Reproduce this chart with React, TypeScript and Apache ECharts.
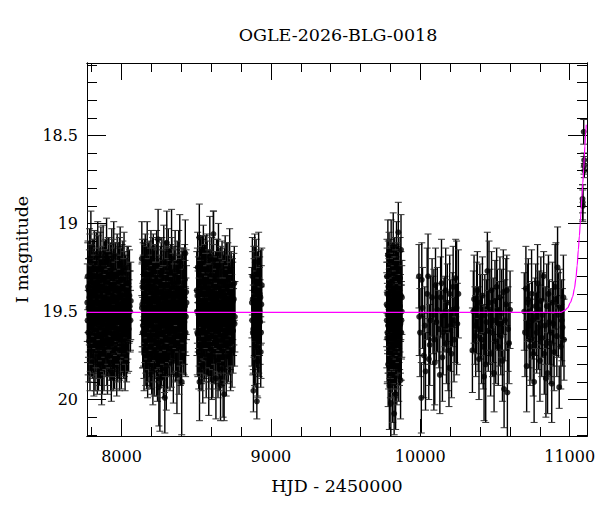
import React, { useEffect, useRef } from "react";
import * as echarts from "echarts";

// Axis ranges and ticks
const xRange = [7769, 11116];
const yRange = [18.089, 20.207];
const xMajorTicks = [8000, 9000, 10000, 11000];
const xMinorTicks = [7800, 8200, 8400, 8600, 8800, 9200, 9400, 9600, 9800, 10200, 10400, 10600, 10800];
const yMajorTicks = [18.5, 19, 19.5, 20];
const yMinorTicks = [18.1, 18.2, 18.3, 18.4, 18.6, 18.7, 18.8, 18.9, 19.1, 19.2, 19.3, 19.4, 19.6, 19.7, 19.8, 19.9, 20.1, 20.2];

const titleText = "OGLE-2026-BLG-0018";
const xTitle = "HJD - 2450000";
const yTitle = "I magnitude";

// Photometry: [HJD-2450000, I mag, error]
const season1 = [
  [7771, 19.45, 0.22], [7774, 19.3, 0.19], [7777, 19.62, 0.24], [7780, 19.38, 0.18], [7783, 19.52, 0.21],
  [7786, 19.2, 0.17], [7789, 19.7, 0.25], [7792, 19.44, 0.2], [7795, 19.22, 0.29], [7798, 19.57, 0.19],
  [7802, 19.36, 0.23], [7805, 19.66, 0.22], [7808, 19.29, 0.2], [7811, 19.48, 0.26], [7815, 19.78, 0.2],
  [7818, 19.25, 0.21], [7821, 19.55, 0.18], [7824, 19.4, 0.24], [7828, 19.63, 0.21], [7831, 19.32, 0.27],
  [7834, 19.5, 0.19], [7838, 19.74, 0.23], [7841, 19.19, 0.2], [7844, 19.46, 0.22], [7847, 19.58, 0.25],
  [7851, 19.34, 0.18], [7854, 19.68, 0.24], [7857, 19.27, 0.22], [7860, 19.53, 0.2], [7864, 19.42, 0.26],
  [7867, 19.81, 0.22], [7870, 19.37, 0.19], [7873, 19.6, 0.21], [7877, 19.24, 0.23], [7880, 19.49, 0.18],
  [7883, 19.71, 0.24], [7886, 19.31, 0.21], [7890, 19.56, 0.2], [7893, 19.43, 0.25], [7896, 19.65, 0.22],
  [7900, 19.21, 0.24], [7903, 19.52, 0.19], [7906, 19.76, 0.21], [7909, 19.39, 0.23], [7913, 19.58, 0.26],
  [7916, 19.28, 0.2], [7919, 19.47, 0.22], [7922, 19.69, 0.2], [7926, 19.35, 0.24], [7929, 19.54, 0.19],
  [7932, 19.84, 0.17], [7935, 19.26, 0.23], [7939, 19.61, 0.28], [7942, 19.41, 0.21], [7945, 19.73, 0.22],
  [7948, 19.18, 0.19], [7952, 19.5, 0.24], [7955, 19.64, 0.2], [7958, 19.33, 0.22], [7961, 19.57, 0.25],
  [7965, 19.44, 0.18], [7968, 19.77, 0.21], [7971, 19.29, 0.23], [7974, 19.53, 0.2], [7978, 19.66, 0.22],
  [7981, 19.37, 0.24], [7984, 19.48, 0.19], [7987, 19.72, 0.23], [7991, 19.23, 0.21], [7994, 19.55, 0.22],
  [7997, 19.4, 0.2], [8000, 19.62, 0.24], [8004, 19.31, 0.19], [8007, 19.59, 0.26], [8010, 19.45, 0.21],
  [8014, 19.68, 0.2], [8017, 19.27, 0.22], [8020, 19.52, 0.18], [8024, 19.74, 0.21], [8028, 19.38, 0.2],
  [8032, 19.56, 0.23], [8036, 19.43, 0.19], [8040, 19.63, 0.22], [8045, 19.34, 0.21], [8050, 19.5, 0.18],
  [8055, 19.47, 0.2], [8060, 19.55, 0.17],
  [7773, 19.55, 0.24], [7776, 19.36, 0.26], [7779, 19.48, 0.28], [7782, 19.67, 0.23], [7785, 19.42, 0.27],
  [7788, 19.31, 0.25], [7791, 19.58, 0.26], [7794, 19.47, 0.24], [7797, 19.39, 0.27], [7800, 19.62, 0.25],
  [7803, 19.52, 0.28], [7806, 19.44, 0.24], [7810, 19.35, 0.26], [7813, 19.6, 0.25], [7816, 19.5, 0.27],
  [7820, 19.41, 0.23], [7823, 19.69, 0.26], [7826, 19.46, 0.25], [7830, 19.55, 0.27], [7833, 19.38, 0.24],
  [7837, 19.6, 0.28], [7840, 19.49, 0.25], [7843, 19.33, 0.26], [7846, 19.71, 0.24], [7850, 19.45, 0.27],
  [7853, 19.57, 0.25], [7856, 19.4, 0.26], [7859, 19.64, 0.24], [7862, 19.3, 0.28], [7866, 19.53, 0.25],
  [7869, 19.46, 0.26], [7872, 19.7, 0.27], [7875, 19.37, 0.24], [7879, 19.59, 0.25], [7882, 19.43, 0.28],
  [7885, 19.62, 0.24], [7888, 19.5, 0.26], [7892, 19.34, 0.25], [7895, 19.56, 0.27], [7898, 19.47, 0.23],
  [7902, 19.66, 0.26], [7905, 19.4, 0.25], [7908, 19.53, 0.27], [7911, 19.32, 0.24], [7915, 19.61, 0.26],
  [7918, 19.44, 0.28], [7921, 19.57, 0.25], [7925, 19.49, 0.24], [7928, 19.68, 0.27], [7931, 19.38, 0.26],
  [7934, 19.52, 0.25], [7937, 19.45, 0.27], [7941, 19.63, 0.24], [7944, 19.35, 0.26], [7947, 19.58, 0.25],
  [7950, 19.42, 0.28], [7954, 19.7, 0.24], [7957, 19.48, 0.26], [7960, 19.36, 0.25], [7963, 19.6, 0.27],
  [7967, 19.51, 0.24], [7970, 19.43, 0.26], [7973, 19.65, 0.25], [7977, 19.39, 0.28], [7980, 19.56, 0.24],
  [7983, 19.47, 0.26], [7986, 19.33, 0.25], [7989, 19.62, 0.27], [7993, 19.5, 0.24], [7996, 19.44, 0.26],
  [7999, 19.69, 0.25], [8002, 19.41, 0.27], [8006, 19.54, 0.24], [8009, 19.36, 0.26], [8012, 19.59, 0.25],
  [8016, 19.48, 0.28], [8019, 19.63, 0.24], [8022, 19.42, 0.26], [8026, 19.55, 0.25], [8030, 19.47, 0.27],
  [8034, 19.66, 0.24], [8038, 19.39, 0.26], [8043, 19.52, 0.25], [8048, 19.6, 0.24], [8053, 19.41, 0.26],
  [8058, 19.5, 0.23], [8062, 19.44, 0.22],
];

const season2 = [
  [8136, 19.2, 0.21], [8139, 19.46, 0.24], [8142, 19.62, 0.2], [8145, 19.33, 0.22], [8148, 19.55, 0.26],
  [8151, 19.74, 0.21], [8154, 19.28, 0.19], [8157, 19.5, 0.23], [8160, 19.41, 0.2], [8163, 19.67, 0.25],
  [8166, 19.35, 0.22], [8169, 19.58, 0.18], [8172, 19.23, 0.24], [8175, 19.79, 0.2], [8178, 19.44, 0.22],
  [8181, 19.52, 0.27], [8185, 19.31, 0.21], [8188, 19.64, 0.23], [8191, 19.47, 0.19], [8194, 19.7, 0.24],
  [8197, 19.26, 0.22], [8200, 19.56, 0.2], [8203, 19.38, 0.25], [8207, 19.61, 0.21], [8210, 19.84, 0.19],
  [8213, 19.29, 0.23], [8216, 19.49, 0.2], [8219, 19.72, 0.26], [8222, 19.36, 0.21], [8226, 19.59, 0.24],
  [8229, 19.42, 0.18], [8232, 19.66, 0.22], [8235, 19.24, 0.2], [8238, 19.53, 0.23], [8241, 19.77, 0.24],
  [8245, 19.09, 0.17], [8248, 19.45, 0.25], [8250, 19.93, 0.22], [8254, 19.6, 0.24], [8257, 19.88, 0.3],
  [8260, 19.34, 0.21], [8264, 19.51, 0.19], [8267, 19.69, 0.23], [8270, 19.3, 0.22], [8273, 19.57, 0.26],
  [8277, 19.43, 0.2], [8280, 19.75, 0.24], [8283, 19.22, 0.21], [8286, 19.62, 0.22], [8290, 19.99, 0.2],
  [8293, 19.39, 0.23], [8296, 19.54, 0.19], [8300, 19.81, 0.25], [8303, 19.11, 0.18], [8306, 19.48, 0.22],
  [8310, 19.65, 0.21], [8313, 19.27, 0.24], [8317, 19.58, 0.2], [8320, 19.4, 0.26], [8324, 19.73, 0.22],
  [8328, 19.33, 0.21], [8332, 19.52, 0.19], [8335, 19.2, 0.28], [8339, 19.63, 0.23], [8343, 19.46, 0.2],
  [8347, 19.78, 0.24], [8351, 19.35, 0.22], [8355, 19.55, 0.18], [8359, 19.29, 0.25], [8363, 19.68, 0.21],
  [8367, 19.44, 0.23], [8371, 19.86, 0.22], [8375, 19.38, 0.2], [8379, 19.6, 0.24], [8383, 19.25, 0.21],
  [8387, 19.5, 0.19], [8390, 19.22, 0.27], [8394, 19.7, 0.22], [8398, 19.42, 0.24], [8403, 19.9, 0.3],
  [8407, 19.36, 0.2], [8411, 19.57, 0.23], [8415, 19.47, 0.21], [8419, 19.64, 0.22], [8423, 19.32, 0.2],
  [8427, 19.17, 0.19], [8431, 19.53, 0.22], [8435, 19.45, 0.21],
  [8137, 19.48, 0.25], [8140, 19.36, 0.27], [8143, 19.58, 0.24], [8146, 19.44, 0.26], [8150, 19.63, 0.25],
  [8153, 19.4, 0.28], [8156, 19.55, 0.24], [8159, 19.32, 0.26], [8162, 19.6, 0.25], [8165, 19.47, 0.27],
  [8168, 19.7, 0.24], [8171, 19.39, 0.26], [8174, 19.52, 0.25], [8177, 19.62, 0.28], [8180, 19.35, 0.24],
  [8183, 19.57, 0.26], [8187, 19.45, 0.25], [8190, 19.66, 0.27], [8193, 19.38, 0.24], [8196, 19.53, 0.26],
  [8199, 19.43, 0.25], [8202, 19.69, 0.28], [8205, 19.48, 0.24], [8209, 19.34, 0.26], [8212, 19.59, 0.25],
  [8215, 19.41, 0.27], [8218, 19.55, 0.24], [8221, 19.64, 0.26], [8224, 19.37, 0.25], [8228, 19.5, 0.28],
  [8231, 19.46, 0.24], [8234, 19.72, 0.26], [8237, 19.4, 0.25], [8240, 19.56, 0.27], [8243, 19.33, 0.24],
  [8247, 19.61, 0.26], [8252, 19.47, 0.25], [8256, 19.54, 0.28], [8259, 19.42, 0.24], [8262, 19.67, 0.26],
  [8266, 19.36, 0.25], [8269, 19.58, 0.27], [8272, 19.49, 0.24], [8275, 19.63, 0.26], [8279, 19.4, 0.25],
  [8282, 19.52, 0.28], [8285, 19.45, 0.24], [8288, 19.7, 0.26], [8292, 19.35, 0.25], [8295, 19.6, 0.27],
  [8298, 19.48, 0.24], [8302, 19.55, 0.26], [8305, 19.38, 0.25], [8308, 19.66, 0.28], [8312, 19.44, 0.24],
  [8315, 19.53, 0.26], [8319, 19.62, 0.25], [8322, 19.41, 0.27], [8326, 19.57, 0.24], [8330, 19.47, 0.26],
  [8334, 19.68, 0.25], [8337, 19.36, 0.28], [8341, 19.54, 0.24], [8345, 19.43, 0.26], [8349, 19.6, 0.25],
  [8353, 19.5, 0.27], [8357, 19.39, 0.24], [8361, 19.64, 0.26], [8365, 19.46, 0.25], [8369, 19.56, 0.28],
  [8373, 19.34, 0.24], [8377, 19.61, 0.26], [8381, 19.48, 0.25], [8385, 19.7, 0.27], [8389, 19.42, 0.24],
  [8392, 19.55, 0.26], [8396, 19.45, 0.25], [8400, 19.63, 0.28], [8405, 19.38, 0.24], [8409, 19.52, 0.26],
  [8413, 19.6, 0.25], [8417, 19.41, 0.27], [8421, 19.56, 0.24], [8425, 19.47, 0.26], [8429, 19.62, 0.25],
  [8433, 19.39, 0.24],
];

const season3 = [
  [8504, 19.38, 0.22], [8507, 19.62, 0.24], [8510, 19.25, 0.2], [8513, 19.5, 0.23], [8517, 19.73, 0.21],
  [8521, 19.08, 0.19], [8522, 19.9, 0.22], [8525, 19.44, 0.25], [8528, 19.3, 0.21], [8531, 19.57, 0.2],
  [8535, 19.68, 0.23], [8538, 19.35, 0.26], [8541, 19.48, 0.19], [8544, 19.8, 0.22], [8548, 19.22, 0.21],
  [8551, 19.59, 0.24], [8554, 19.41, 0.2], [8557, 19.66, 0.22], [8561, 19.32, 0.25], [8564, 19.53, 0.19],
  [8567, 19.76, 0.23], [8571, 19.27, 0.21], [8574, 19.46, 0.24], [8577, 19.63, 0.2], [8581, 19.37, 0.22],
  [8584, 19.85, 0.24], [8587, 19.52, 0.21], [8591, 19.19, 0.23], [8594, 19.7, 0.2], [8597, 19.43, 0.26],
  [8601, 19.58, 0.22], [8604, 19.29, 0.21], [8608, 19.49, 0.19], [8611, 19.74, 0.25], [8615, 19.06, 0.13],
  [8616, 19.21, 0.28], [8619, 19.55, 0.22], [8622, 19.38, 0.2], [8626, 19.67, 0.24], [8629, 19.45, 0.21],
  [8632, 19.88, 0.23], [8636, 19.31, 0.22], [8639, 19.6, 0.19], [8642, 19.47, 0.25], [8646, 19.78, 0.21],
  [8649, 19.24, 0.24], [8652, 19.54, 0.2], [8656, 19.65, 0.23], [8659, 19.36, 0.22], [8663, 19.92, 0.2],
  [8666, 19.5, 0.24], [8670, 19.71, 0.21], [8673, 19.33, 0.23], [8677, 19.57, 0.2], [8680, 19.82, 0.28],
  [8684, 19.4, 0.22], [8687, 19.97, 0.15], [8690, 19.62, 0.24], [8694, 19.28, 0.21], [8697, 19.52, 0.2],
  [8701, 19.75, 0.23], [8704, 19.43, 0.22], [8708, 19.58, 0.19], [8712, 19.35, 0.24], [8716, 19.69, 0.21],
  [8720, 19.46, 0.2], [8724, 19.26, 0.23], [8728, 19.61, 0.22], [8732, 19.5, 0.25], [8736, 19.39, 0.2],
  [8740, 19.72, 0.21], [8745, 19.44, 0.22], [8750, 19.56, 0.19], [8755, 19.34, 0.21], [8759, 19.53, 0.2],
  [8505, 19.5, 0.25], [8508, 19.41, 0.27], [8511, 19.63, 0.24], [8515, 19.45, 0.26], [8519, 19.56, 0.25],
  [8524, 19.36, 0.28], [8527, 19.61, 0.24], [8530, 19.47, 0.26], [8533, 19.7, 0.25], [8537, 19.4, 0.27],
  [8540, 19.55, 0.24], [8543, 19.33, 0.26], [8546, 19.6, 0.25], [8550, 19.49, 0.28], [8553, 19.66, 0.24],
  [8556, 19.38, 0.26], [8559, 19.53, 0.25], [8563, 19.44, 0.27], [8566, 19.62, 0.24], [8569, 19.5, 0.26],
  [8573, 19.35, 0.25], [8576, 19.58, 0.28], [8579, 19.47, 0.24], [8583, 19.68, 0.26], [8586, 19.42, 0.25],
  [8589, 19.55, 0.27], [8593, 19.39, 0.24], [8596, 19.61, 0.26], [8599, 19.48, 0.25], [8603, 19.72, 0.28],
  [8606, 19.43, 0.24], [8610, 19.57, 0.26], [8613, 19.37, 0.25], [8618, 19.64, 0.27], [8621, 19.46, 0.24],
  [8624, 19.54, 0.26], [8628, 19.41, 0.25], [8631, 19.66, 0.28], [8634, 19.5, 0.24], [8638, 19.45, 0.26],
  [8641, 19.59, 0.25], [8644, 19.36, 0.27], [8648, 19.62, 0.24], [8651, 19.48, 0.26], [8654, 19.7, 0.25],
  [8658, 19.44, 0.28], [8661, 19.55, 0.24], [8665, 19.39, 0.26], [8668, 19.6, 0.25], [8672, 19.47, 0.27],
  [8675, 19.67, 0.24], [8679, 19.42, 0.26], [8682, 19.56, 0.25], [8686, 19.5, 0.28], [8689, 19.38, 0.24],
  [8692, 19.63, 0.26], [8696, 19.46, 0.25], [8699, 19.58, 0.27], [8703, 19.35, 0.24], [8706, 19.65, 0.26],
  [8710, 19.49, 0.25], [8714, 19.54, 0.28], [8718, 19.42, 0.24], [8722, 19.6, 0.26], [8726, 19.47, 0.25],
  [8730, 19.68, 0.27], [8734, 19.4, 0.24], [8738, 19.55, 0.26], [8742, 19.45, 0.25], [8747, 19.61, 0.24],
  [8752, 19.43, 0.26], [8757, 19.57, 0.24],
];

const season4 = [
  [8873, 19.45, 0.2], [8876, 19.3, 0.22], [8879, 19.62, 0.24], [8883, 19.95, 0.12], [8886, 19.38, 0.25],
  [8889, 19.55, 0.2], [8892, 19.22, 0.16], [8895, 19.7, 0.23], [8898, 19.48, 0.21], [8901, 19.33, 0.24],
  [8904, 19.6, 0.22], [8906, 20.01, 0.1], [8909, 19.42, 0.26], [8912, 19.78, 0.21], [8915, 19.51, 0.2],
  [8918, 19.27, 0.22], [8921, 19.64, 0.23], [8925, 19.4, 0.21], [8928, 19.56, 0.24], [8932, 19.73, 0.2],
  [8936, 19.46, 0.22], [8939, 19.35, 0.21],
  [8874, 19.55, 0.26], [8878, 19.43, 0.27], [8882, 19.6, 0.25], [8887, 19.48, 0.28], [8891, 19.66, 0.26],
  [8897, 19.4, 0.27], [8903, 19.52, 0.25], [8908, 19.7, 0.28], [8913, 19.45, 0.26], [8919, 19.58, 0.27],
  [8924, 19.5, 0.25], [8930, 19.42, 0.27], [8934, 19.62, 0.26],
];

const season5 = [
  [9775, 19.46, 0.24], [9777, 19.3, 0.21], [9779, 19.65, 0.26], [9781, 19.52, 0.22], [9783, 19.18, 0.2],
  [9785, 19.8, 0.24], [9787, 19.4, 0.23], [9789, 19.58, 0.27], [9791, 19.27, 0.22], [9793, 19.92, 0.25],
  [9795, 19.48, 0.21], [9797, 19.69, 0.24], [9799, 19.35, 0.26], [9801, 19.55, 0.2], [9803, 20.02, 0.22],
  [9805, 19.22, 0.24], [9807, 19.62, 0.23], [9809, 19.44, 0.25], [9811, 19.75, 0.21], [9813, 19.33, 0.22],
  [9815, 19.86, 0.27], [9817, 19.5, 0.23], [9819, 19.13, 0.19], [9821, 19.68, 0.24], [9823, 19.41, 0.22],
  [9825, 20.08, 0.12], [9827, 19.57, 0.25], [9829, 19.29, 0.21], [9831, 19.73, 0.26], [9833, 19.47, 0.23],
  [9835, 19.97, 0.2], [9837, 19.36, 0.24], [9839, 19.6, 0.22], [9841, 19.24, 0.25], [9843, 19.82, 0.21],
  [9845, 19.52, 0.23], [9847, 19.39, 0.26], [9850, 19.66, 0.22], [9853, 19.05, 0.17], [9856, 19.77, 0.24],
  [9859, 19.45, 0.21], [9862, 19.58, 0.25], [9865, 19.31, 0.23], [9868, 19.89, 0.22], [9871, 19.15, 0.2],
  [9874, 19.55, 0.22], [9877, 19.42, 0.21],
  [9776, 19.55, 0.27], [9778, 19.4, 0.26], [9780, 19.62, 0.28], [9782, 19.47, 0.25], [9784, 19.58, 0.27],
  [9786, 19.36, 0.26], [9788, 19.66, 0.28], [9790, 19.45, 0.25], [9792, 19.53, 0.27], [9794, 19.4, 0.26],
  [9796, 19.6, 0.28], [9798, 19.5, 0.25], [9800, 19.72, 0.27], [9802, 19.43, 0.26], [9804, 19.56, 0.28],
  [9806, 19.38, 0.25], [9808, 19.64, 0.27], [9810, 19.49, 0.26], [9812, 19.59, 0.28], [9814, 19.42, 0.25],
  [9816, 19.67, 0.27], [9818, 19.46, 0.26], [9820, 19.55, 0.28], [9822, 19.37, 0.25], [9824, 19.61, 0.27],
  [9826, 19.5, 0.26], [9828, 19.7, 0.28], [9830, 19.44, 0.25], [9832, 19.57, 0.27], [9834, 19.41, 0.26],
  [9836, 19.63, 0.28], [9838, 19.52, 0.25], [9840, 19.46, 0.27], [9842, 19.68, 0.26], [9844, 19.39, 0.28],
  [9846, 19.58, 0.25], [9848, 19.48, 0.27], [9852, 19.6, 0.26], [9855, 19.43, 0.28], [9858, 19.54, 0.25],
  [9861, 19.65, 0.27], [9864, 19.47, 0.26], [9867, 19.57, 0.28], [9870, 19.41, 0.25], [9873, 19.62, 0.27],
  [9876, 19.5, 0.26],
];

const season6 = [
  [9991, 19.3, 0.18], [9993, 19.53, 0.22], [9998, 19.62, 0.25], [10007, 19.99, 0.2], [10010, 19.32, 0.21],
  [10015, 19.48, 0.23], [10024, 19.75, 0.24], [10030, 19.58, 0.22], [10035, 19.84, 0.22], [10046, 19.4, 0.26],
  [10052, 19.3, 0.24], [10057, 19.77, 0.23], [10063, 19.69, 0.23], [10068, 19.55, 0.25], [10079, 19.42, 0.22],
  [10085, 19.52, 0.22], [10091, 19.66, 0.4], [10097, 19.79, 0.24], [10102, 19.35, 0.21], [10108, 19.56, 0.22],
  [10114, 19.49, 0.24], [10125, 19.6, 0.22], [10131, 19.86, 0.22], [10136, 19.42, 0.23], [10142, 19.34, 0.25],
  [10148, 19.76, 0.25], [10153, 19.62, 0.24], [10159, 19.52, 0.21], [10165, 19.5, 0.2], [10170, 19.38, 0.24],
  [10175, 19.68, 0.23], [10181, 19.45, 0.22], [10186, 19.72, 0.23], [10192, 19.82, 0.22], [10197, 19.4, 0.22],
  [10203, 19.58, 0.26], [10209, 19.74, 0.25], [10215, 19.49, 0.21], [10220, 19.36, 0.23], [10226, 19.66, 0.24],
  [10232, 19.55, 0.24], [10237, 19.31, 0.22], [10243, 19.48, 0.38], [10248, 19.57, 0.23], [10255, 19.4, 0.25],
];

const season7 = [
  [10349, 19.72, 0.24], [10355, 19.5, 0.23], [10360, 19.43, 0.25], [10366, 19.58, 0.22], [10371, 19.64, 0.23],
  [10377, 19.48, 0.26], [10382, 19.38, 0.22], [10388, 19.6, 0.24], [10393, 19.77, 0.23], [10399, 19.45, 0.22],
  [10404, 19.53, 0.24], [10410, 19.66, 0.25], [10416, 19.41, 0.22], [10421, 19.7, 0.24], [10427, 19.87, 0.25],
  [10432, 19.52, 0.23], [10438, 19.8, 0.33], [10443, 19.56, 0.24], [10449, 19.27, 0.22], [10455, 19.61, 0.23],
  [10460, 19.45, 0.35], [10466, 19.49, 0.23], [10471, 19.74, 0.24], [10477, 19.38, 0.22], [10483, 19.62, 0.25],
  [10488, 19.55, 0.24], [10494, 19.85, 0.22], [10500, 19.44, 0.23], [10505, 19.67, 0.24], [10511, 19.36, 0.22],
  [10516, 19.49, 0.23], [10522, 19.7, 0.22], [10528, 19.57, 0.24], [10533, 19.42, 0.23], [10539, 19.64, 0.22],
  [10545, 19.51, 0.25], [10550, 19.78, 0.23], [10556, 19.39, 0.24], [10561, 19.94, 0.22], [10567, 19.55, 0.23],
  [10573, 19.46, 0.26], [10579, 19.38, 0.2], [10583, 19.96, 0.28], [10588, 19.6, 0.24], [10594, 19.68, 0.23],
  [10601, 19.49, 0.22],
];

const season8 = [
  [10696, 19.5, 0.22], [10701, 19.62, 0.25], [10707, 19.37, 0.24], [10712, 19.81, 0.26], [10718, 19.45, 0.22],
  [10723, 19.43, 0.23], [10729, 19.58, 0.24], [10734, 19.7, 0.22], [10740, 19.66, 0.23], [10745, 19.4, 0.25],
  [10751, 19.55, 0.22], [10756, 19.74, 0.24], [10762, 19.9, 0.23], [10767, 19.53, 0.22], [10773, 19.47, 0.24],
  [10779, 19.62, 0.23], [10785, 19.34, 0.22], [10790, 19.59, 0.24], [10796, 19.49, 0.22], [10801, 19.78, 0.23],
  [10807, 19.44, 0.25], [10813, 19.65, 0.22], [10818, 19.52, 0.24], [10826, 19.3, 0.14], [10830, 19.74, 0.23],
  [10836, 19.58, 0.22], [10841, 19.88, 0.22], [10847, 19.47, 0.24], [10852, 19.85, 0.23], [10858, 19.4, 0.22],
  [10863, 19.56, 0.24], [10869, 19.68, 0.23], [10874, 19.62, 0.25], [10880, 19.91, 0.22], [10885, 19.45, 0.23],
  [10891, 19.57, 0.24], [10896, 19.73, 0.22], [10902, 19.36, 0.24], [10908, 19.43, 0.32], [10914, 19.64, 0.23],
  [10919, 19.25, 0.23], [10925, 19.52, 0.24], [10930, 19.93, 0.12], [10936, 19.48, 0.22], [10941, 19.7, 0.24],
  [10947, 19.55, 0.23], [10952, 19.59, 0.22], [10958, 19.42, 0.24], [10962, 19.66, 0.23],
];

const season9 = [
  [11086, 18.86, 0.08], [11087, 18.88, 0.1], [11088, 18.9, 0.09], [11094, 18.48, 0.07],
  [11096, 18.67, 0.05], [11097, 18.64, 0.04], [11098, 18.7, 0.04],
];

// Model light curve (magenta)
const modelCurve = [
  [7769, 19.505], [10940, 19.505], [10965, 19.495], [10986, 19.48], [11005, 19.45], [11020, 19.415],
  [11032, 19.37], [11042, 19.31], [11050, 19.24], [11058, 19.15], [11065, 19.07], [11071, 19.0],
  [11077, 18.92], [11082, 18.85], [11088, 18.77], [11094, 18.69], [11098, 18.62], [11102, 18.56],
  [11107, 18.49], [11111, 18.44],
];

const FONT = "DejaVu Serif";

const allPoints = [
  ...season1, ...season2, ...season3, ...season4, ...season5,
  ...season6, ...season7, ...season8, ...season9,
];

function xAxisDef(position: string, values: number[], len: number, labels: boolean) {
  return {
    type: "value",
    position,
    min: xRange[0],
    max: xRange[1],
    axisLine: { show: true, onZero: false, lineStyle: { color: "#000", width: 1 } },
    axisTick: { show: true, inside: true, length: len, customValues: values, lineStyle: { color: "#000", width: 1 } },
    axisLabel: labels
      ? { show: true, customValues: values, color: "#000", fontFamily: FONT, fontSize: 16, margin: 12, formatter: (v: number) => String(v) }
      : { show: false },
    splitLine: { show: false },
  };
}

function yAxisDef(position: string, values: number[], len: number, labels: boolean) {
  return {
    type: "value",
    position,
    inverse: true,
    min: yRange[0],
    max: yRange[1],
    axisLine: { show: true, onZero: false, lineStyle: { color: "#000", width: 1 } },
    axisTick: { show: true, inside: true, length: len, customValues: values, lineStyle: { color: "#000", width: 1 } },
    axisLabel: labels
      ? { show: true, customValues: values, color: "#000", fontFamily: FONT, fontSize: 16, margin: 9, formatter: (v: number) => String(v) }
      : { show: false },
    splitLine: { show: false },
  };
}

export default function App() {
  const ref = useRef<HTMLDivElement>(null);
  useEffect(() => {
    if (!ref.current) return;
    const chart = echarts.init(ref.current, null, { renderer: "svg" });
    const xs: any[] = [
      { ...xAxisDef("bottom", xMajorTicks, 17, true), name: xTitle, nameLocation: "middle", nameGap: 41,
        nameTextStyle: { color: "#000", fontFamily: FONT, fontSize: 17.5 } },
      xAxisDef("bottom", xMinorTicks, 9, false),
      xAxisDef("top", xMajorTicks, 17, false),
      xAxisDef("top", xMinorTicks, 9, false),
    ];
    const ys: any[] = [
      { ...yAxisDef("left", yMajorTicks, 19, true), name: yTitle, nameLocation: "middle", nameGap: 55,
        nameRotate: 90, nameTextStyle: { color: "#000", fontFamily: FONT, fontSize: 17.5 } },
      yAxisDef("left", yMinorTicks, 10, false),
      yAxisDef("right", yMajorTicks, 19, false),
      yAxisDef("right", yMinorTicks, 10, false),
    ];
    chart.setOption({
      animation: false,
      backgroundColor: "#fff",
      grid: { left: 87, right: 13, top: 63, bottom: 76, containLabel: false },
      xAxis: xs,
      yAxis: ys,
      graphic: [
        {
          type: "text",
          x: 338,
          y: 35,
          style: {
            text: titleText,
            fill: "#000",
            font: `17.5px "${FONT}"`,
            textAlign: "center",
            textVerticalAlign: "middle",
          },
        },
      ],
      series: [
        {
          type: "custom",
          xAxisIndex: 0,
          yAxisIndex: 0,
          data: allPoints,
          encode: { x: 0, y: 1 },
          z: 2,
          renderItem: (params: any, api: any) => {
            const t = api.value(0);
            const m = api.value(1);
            const e = api.value(2);
            const cs = params.coordSys;
            const pa = api.coord([t, m - e]);
            const pb = api.coord([t, m + e]);
            const yTopRaw = Math.min(pa[1], pb[1]);
            const yBotRaw = Math.max(pa[1], pb[1]);
            const yTop = Math.max(cs.y, yTopRaw);
            const yBot = Math.min(cs.y + cs.height, yBotRaw);
            const x = pa[0];
            const children: any[] = [
              { type: "line", shape: { x1: x, y1: yTop, x2: x, y2: yBot }, style: { stroke: "#000", lineWidth: 1.4 } },
            ];
            if (yTopRaw >= cs.y)
              children.push({ type: "line", shape: { x1: x - 3.5, y1: yTop, x2: x + 3.5, y2: yTop }, style: { stroke: "#333", lineWidth: 1 } });
            if (yBotRaw <= cs.y + cs.height)
              children.push({ type: "line", shape: { x1: x - 3.5, y1: yBot, x2: x + 3.5, y2: yBot }, style: { stroke: "#333", lineWidth: 1 } });
            return { type: "group", children };
          },
        },
        {
          type: "scatter",
          xAxisIndex: 0,
          yAxisIndex: 0,
          data: allPoints.map((p) => [p[0], p[1]]),
          symbol: "circle",
          symbolSize: 6,
          itemStyle: { color: "#000" },
          z: 3,
        },
        {
          type: "line",
          xAxisIndex: 0,
          yAxisIndex: 0,
          data: modelCurve,
          showSymbol: false,
          symbol: "none",
          smooth: 0.3,
          smoothMonotone: "x",
          lineStyle: { color: "#ff00ff", width: 1.2 },
          z: 4,
        },
      ],
    });
    return () => chart.dispose();
  }, []);
  return <div ref={ref} style={{ position: "absolute", left: 0, top: 0, width: 600, height: 512 }} />;
}
